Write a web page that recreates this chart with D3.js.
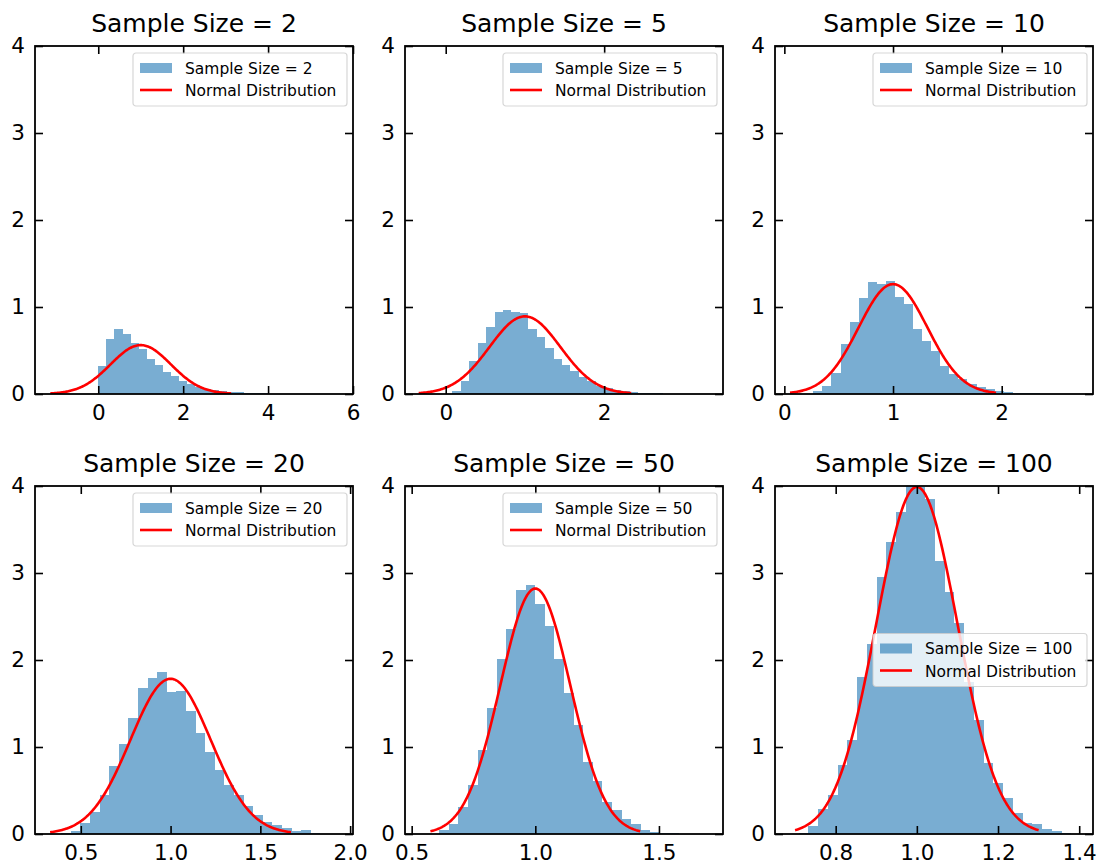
<!DOCTYPE html>
<html><head><meta charset="utf-8">
<script src="https://cdn.jsdelivr.net/npm/d3@7"></script>
<style>body{margin:0;background:#fff} svg{display:block} text{font-family:"DejaVu Sans",sans-serif}</style>
</head><body><svg id="c" width="1099" height="867"></svg>
<script>
// ---------- data ----------
const sampleSizes = [2, 5, 10, 20, 50, 100];
const titles = sampleSizes.map(n => "Sample Size = " + n);
const curveLabel = "Normal Distribution";

// histogram densities (30 bins each)
const hist2 = [0.317,0.636,0.747,0.693,0.586,0.517,0.402,0.329,0.256,0.202,0.153,0.115,0.08,0.06,0.045,0.035,0.025,0.018,0.013,0.01,0.007,0.005,0.004,0.003,0.002,0.001,0.001,0,0,0.001];
const hist5 = [0.03,0.145,0.375,0.585,0.77,0.94,0.97,0.94,0.93,0.75,0.655,0.528,0.40,0.336,0.26,0.195,0.145,0.095,0.068,0.045,0.035,0.025,0.015,0.01,0.008,0.005,0.003,0.002,0.001,0.001];
const hist10 = [0.03,0.095,0.241,0.574,0.826,1.109,1.285,1.266,1.30,1.12,1.033,0.75,0.612,0.50,0.325,0.23,0.172,0.118,0.08,0.057,0.038,0.023,0.015,0.01,0.006,0.004,0.002,0.001,0.001,0.001];
const hist20 = [0.003,0.01,0.035,0.123,0.257,0.448,0.785,1.034,1.337,1.674,1.797,1.858,1.628,1.644,1.414,1.165,0.946,0.736,0.563,0.448,0.322,0.218,0.141,0.103,0.065,0.038,0.046,0.01,0.005,0.003];
const hist50 = [0.005,0.05,0.12,0.31,0.56,0.97,1.453,2.008,2.353,2.80,2.866,2.648,2.391,2.016,1.625,1.257,0.828,0.609,0.368,0.272,0.169,0.111,0.043,0.025,0.01,0.007,0.004,0.002,0.001,0.001];
const hist100 = [0.003,0.01,0.092,0.284,0.448,0.793,1.08,1.808,2.184,2.958,3.36,3.705,4.05,3.99,3.85,3.142,2.785,2.421,1.75,1.31,0.813,0.583,0.41,0.238,0.13,0.115,0.057,0.038,0.01,0.005];
const histograms = [hist2, hist5, hist10, hist20, hist50, hist100];

// first bin edge and bin width of each histogram
const binStart = [0.002, 0.084, 0.267, 0.337, 0.5727, 0.6846];
const binWidth = [0.19, 0.1065, 0.0834, 0.0535, 0.0388, 0.024];

// fitted normal distribution parameters (mean, std)
const normalMean = [1.0, 1.0, 1.0, 1.0, 1.0, 1.0];
const normalStd = [0.71, 0.447, 0.316, 0.2236, 0.1414, 0.1];

// axis limits and ticks
const xLimits = [[-1.49, 6.0], [-0.514, 3.50], [-0.086, 2.84], [0.245, 2.016], [0.473, 1.759], [0.6505, 1.434]];
const xTicks = [[0, 2, 4, 6], [0, 2], [0, 1, 2], [0.5, 1.0, 1.5, 2.0], [0.5, 1.0, 1.5], [0.8, 1.0, 1.2, 1.4]];
const xTickFormat = [d3.format("d"), d3.format("d"), d3.format("d"), d3.format(".1f"), d3.format(".1f"), d3.format(".1f")];
const yTicks = [0, 1, 2, 3, 4];
const yLimit = [0, 4];
const legendLoc = ["upper right", "upper right", "upper right", "upper right", "upper right", "center right"];

// ---------- layout ----------
const colLeft = [35, 405, 775];
const rowTop = [46, 486];
const W = 318, H = 348;
const histColor = "#1f77b4";
const lineColor = "#ff0000";

const svg = d3.select("#c");

histograms.forEach((hist, k) => {
  const left = colLeft[k % 3], top = rowTop[Math.floor(k / 3)];
  const g = svg.append("g").attr("transform", `translate(${left},${top})`);
  const x = d3.scaleLinear().domain(xLimits[k]).range([0, W]);
  const y = d3.scaleLinear().domain(yLimit).range([H, 0]);

  const clipId = "clip" + k;
  g.append("clipPath").attr("id", clipId).append("rect").attr("width", W).attr("height", H);
  const plot = g.append("g").attr("clip-path", `url(#${clipId})`);

  const bins = hist.map((v, i) => ({ x0: binStart[k] + i * binWidth[k], x1: binStart[k] + (i + 1) * binWidth[k], v }));
  plot.selectAll("rect.bar").data(bins).join("rect")
    .attr("class", "bar")
    .attr("x", d => x(d.x0))
    .attr("width", d => x(d.x1) - x(d.x0))
    .attr("y", d => y(d.v))
    .attr("height", d => y(0) - y(d.v))
    .attr("fill", histColor).attr("fill-opacity", 0.6)
    .attr("shape-rendering", "crispEdges");

  // normal pdf curve over mean +/- 3 std
  const mu = normalMean[k], sd = normalStd[k];
  const xs = d3.range(0, 201).map(i => mu - 3 * sd + i * (6 * sd / 200));
  const pdf = t => Math.exp(-0.5 * ((t - mu) / sd) ** 2) / (sd * Math.sqrt(2 * Math.PI));
  plot.append("path")
    .attr("d", d3.line().x(t => x(t)).y(t => y(pdf(t)))(xs))
    .attr("fill", "none").attr("stroke", lineColor).attr("stroke-width", 2.6);

  // axes with inward ticks
  const tl = 8, pad = 11;
  const axB = g.append("g").attr("transform", `translate(0,${H})`)
    .call(d3.axisBottom(x).tickValues(xTicks[k]).tickFormat(xTickFormat[k]).tickSize(-tl).tickPadding(pad));
  const axT = g.append("g")
    .call(d3.axisTop(x).tickValues(xTicks[k]).tickFormat("").tickSize(-tl));
  const axL = g.append("g")
    .call(d3.axisLeft(y).tickValues(yTicks).tickFormat(d3.format("d")).tickSize(-tl).tickPadding(10));
  const axR = g.append("g").attr("transform", `translate(${W},0)`)
    .call(d3.axisRight(y).tickValues(yTicks).tickFormat("").tickSize(-tl));
  [axB, axT, axL, axR].forEach(a => {
    a.select(".domain").remove();
    a.selectAll(".tick line").attr("stroke", "#000").attr("stroke-width", 1.6);
    a.selectAll(".tick text").attr("font-size", 21.5).attr("fill", "#000")
      .style("font-family", '"DejaVu Sans", sans-serif');
  });

  // frame
  g.append("rect").attr("width", W).attr("height", H)
    .attr("fill", "none").attr("stroke", "#000").attr("stroke-width", 1.8);

  // title
  g.append("text").attr("x", W / 2).attr("y", -14).attr("text-anchor", "middle")
    .attr("font-size", 25).attr("fill", "#000").text(titles[k]);

  // legend
  const lw = 214, lh = 53;
  const lx = W - 6 - lw;
  const ly = legendLoc[k] === "upper right" ? 7 : (H - lh) / 2;
  const lg = g.append("g").attr("transform", `translate(${lx},${ly})`);
  lg.append("rect").attr("width", lw).attr("height", lh).attr("rx", 3).attr("ry", 3)
    .attr("fill", "#fff").attr("fill-opacity", 0.8)
    .attr("stroke", "#cccccc").attr("stroke-opacity", 0.8).attr("stroke-width", 1.2);
  lg.append("rect").attr("x", 7).attr("y", 10).attr("width", 32).attr("height", 10)
    .attr("fill", histColor).attr("fill-opacity", 0.6);
  lg.append("line").attr("x1", 7).attr("x2", 39).attr("y1", 37).attr("y2", 37)
    .attr("stroke", lineColor).attr("stroke-width", 2.6);
  lg.append("text").attr("x", 52).attr("y", 20.5).attr("font-size", 15.5).attr("fill", "#000").text(titles[k]);
  lg.append("text").attr("x", 52).attr("y", 43).attr("font-size", 15.5).attr("fill", "#000").text(curveLabel);
});
</script></body></html>
